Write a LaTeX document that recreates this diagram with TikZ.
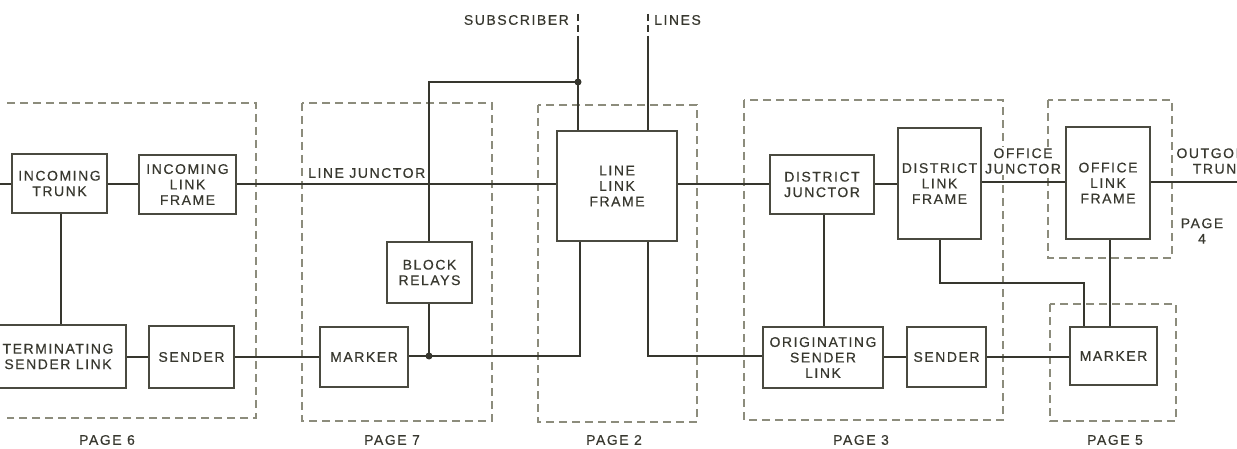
\documentclass[tikz,border=0pt]{standalone}
\usepackage{fontspec}
\setmainfont{Liberation Sans}[LetterSpace=11,FakeBold=0.4]
\definecolor{ink}{HTML}{36362E}
\definecolor{boxc}{HTML}{4A4A40}
\definecolor{dash}{HTML}{8C8C7C}
\definecolor{txt}{HTML}{38382F}
\tikzset{
  box/.style={draw=boxc, line width=1.2pt, fill=white, align=center, inner sep=0pt,
    font=\fontsize{14pt}{15.5pt}\selectfont, text=txt},
  lbl/.style={align=center, inner sep=0pt, font=\fontsize{14pt}{15.5pt}\selectfont, text=txt},
  conn/.style={draw=ink, line width=2pt},
  pagebox/.style={draw=dash, line width=1.2pt, dash pattern=on 8pt off 5pt},
  dot/.style={circle, fill=ink, inner sep=0pt, minimum size=7pt}
}
\begin{document}
\begin{tikzpicture}[x=1pt,y=-1pt]
\clip (0,0) rectangle (1237,449);
\fill[white] (0,0) rectangle (1237,449);
% page boxes
\draw[pagebox] (7,103) -- (256,103) -- (256,418) -- (7,418);
\draw[pagebox] (302,103) rectangle (492,421);
\draw[pagebox] (538,105) rectangle (697,422);
\draw[pagebox] (744,100) rectangle (1003,420);
\draw[pagebox] (1048,100) rectangle (1172,258);
\draw[pagebox] (1050,304) rectangle (1176,421);
% coordinates
\coordinate (in) at (0,184);
\coordinate (out) at (1240,182);
\coordinate (j1) at (578,82);
\coordinate (j2) at (429,356);
\coordinate (subtop) at (578,14);
\coordinate (subs) at (578,40);
\coordinate (lintop) at (648,14);
\coordinate (lins) at (648,40);
\coordinate (k) at (1084,283);
% connectors (drawn first, boxes on top)
\draw[conn] (in) -- (12,184);
\draw[conn] (59.5,184) -- (187.5,184);
\draw[conn] (61,184) -- (61,357);
\draw[conn] (236,184) -- (617,184);
\draw[conn] (617,184) -- (822,184);
\draw[conn] (822,184) -- (939,184);
\draw[conn] (939,182) -- (1108,182) -- (out);
\draw[conn] (60,357) -- (364,357);
\draw[conn] (364,356) -- (580,356) -- (580,186);
\draw[conn] (648,186) -- (648,356) -- (823,356);
\draw[conn] (823,357) -- (1113,357);
\draw[conn] (824,184) -- (824,357);
\draw[conn] (429,272) -- (429,82) -- (j1);
\draw[conn] (429,272) -- (j2);
\draw[conn] (subs) -- (578,186);
\draw[conn] (lins) -- (648,186);
\draw[ink, line width=2pt, dash pattern=on 7pt off 4pt] (subtop) -- (subs);
\draw[ink, line width=2pt, dash pattern=on 7pt off 4pt] (lintop) -- (lins);
\draw[conn] (940,183) |- (k) -- (1084,356);
\draw[conn] (1110,183) -- (1110,356);
% boxes
\node[box, minimum width=95pt, minimum height=59pt] (trunk) at (59.5,183.5) {INCOMING\\TRUNK};
\node[box, minimum width=97pt, minimum height=59pt] (ilf) at (187.5,184.5) {INCOMING\\LINK\\FRAME};
\node[box, minimum width=136pt, minimum height=63pt] (tsl) at (58,356.5) {TERMINATING\\SENDER LINK};
\node[box, minimum width=85pt, minimum height=62pt] (snd6) at (191.5,357) {SENDER};
\node[box, minimum width=88pt, minimum height=60pt] (mk7) at (364,357) {MARKER};
\node[box, minimum width=85pt, minimum height=61pt] (blk) at (429.5,272.5) {BLOCK\\RELAYS};
\node[box, minimum width=120pt, minimum height=110pt] (llf) at (617,186) {LINE\\LINK\\FRAME};
\node[box, minimum width=104pt, minimum height=59pt] (dj) at (822,184.5) {DISTRICT\\JUNCTOR};
\node[box, minimum width=83pt, minimum height=111pt] (dlf) at (939.5,183.5) {DISTRICT\\LINK\\FRAME};
\node[box, minimum width=84pt, minimum height=112pt] (olf) at (1108,183) {OFFICE\\LINK\\FRAME};
\node[box, minimum width=120pt, minimum height=61pt] (osl) at (823,357.5) {ORIGINATING\\SENDER\\LINK};
\node[box, minimum width=79pt, minimum height=60pt] (snd3) at (946.5,357) {SENDER};
\node[box, minimum width=87pt, minimum height=58pt] (mk5) at (1113.5,356) {MARKER};
% dots
\node[dot] (d1) at (j1) {};
\node[dot] (d2) at (j2) {};
% labels
\node[lbl, anchor=west] (lj) at (308,173) {LINE JUNCTOR};
\node[lbl, fill=white, inner sep=1pt] (oj) at (1023,161) {OFFICE\\JUNCTOR};
\node[lbl] (ot) at (1220,161) {OUTGOING\\TRUNK};
\node[lbl] (p4) at (1202,231) {PAGE\\4};
\node[lbl, anchor=east] (sub) at (569,20) {SUBSCRIBER};
\node[lbl, anchor=west] (lin) at (654,20) {LINES};
\node[lbl] (p6) at (107,440) {PAGE 6};
\node[lbl] (p7) at (392,440) {PAGE 7};
\node[lbl] (p2) at (614,440) {PAGE 2};
\node[lbl] (p3) at (861,440) {PAGE 3};
\node[lbl] (p5) at (1115,440) {PAGE 5};
\end{tikzpicture}
\end{document}
